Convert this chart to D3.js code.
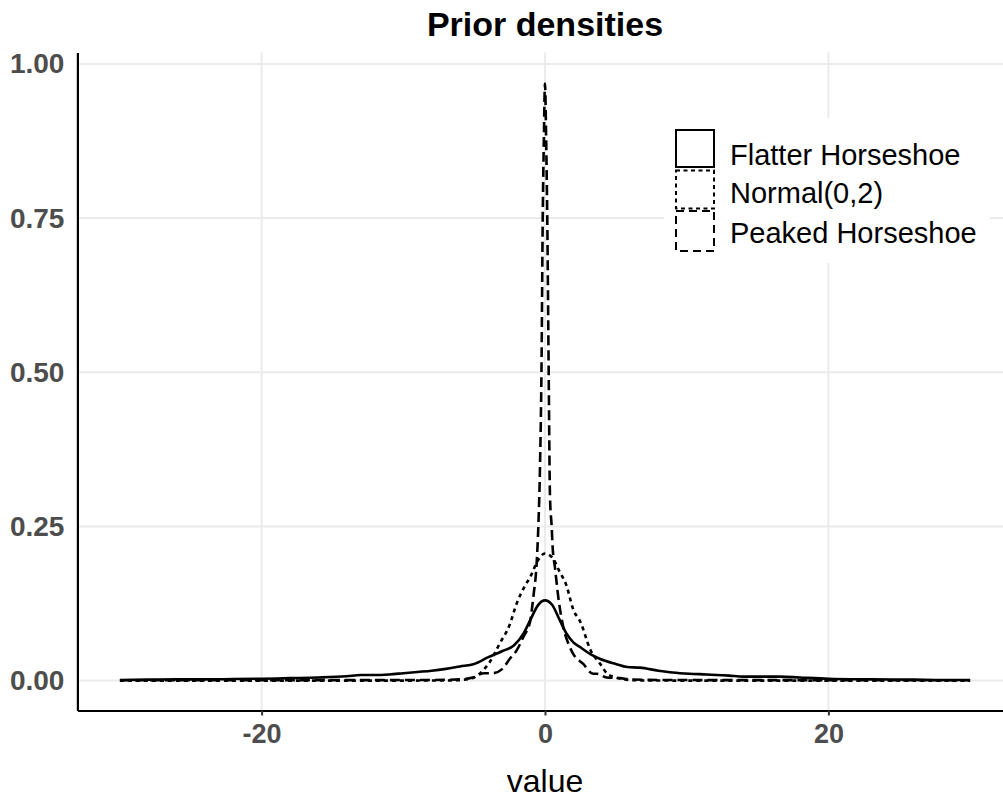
<!DOCTYPE html>
<html>
<head>
<meta charset="utf-8">
<script src="https://cdn.jsdelivr.net/npm/d3@7"></script>
<style>
  html, body { margin: 0; padding: 0; background: #fff; }
  svg { display: block; font-family: "Liberation Sans", Arial, Helvetica, sans-serif; }
</style>
</head>
<body>
<svg id="chart" width="1003" height="801"></svg>
<script>
// ---------- data ----------
const title = "Prior densities";
const xLabel = "value";
const seriesNames = ["Flatter Horseshoe", "Normal(0,2)", "Peaked Horseshoe"];
const xTicks = [-20, 0, 20];
const yTicks = [0, 0.25, 0.5, 0.75, 1.0];
const yTickLabels = ["0.00", "0.25", "0.50", "0.75", "1.00"];

const flatterX = [-30, -28, -26, -24, -22, -20, -18, -16, -14, -13, -12, -11, -10, -9, -8, -7, -6, -5, -4, -3, -2.2, -1.5, -1, -0.5, 0,
                  0.5, 1, 1.5, 2, 2.5, 3.2, 3.9, 5, 5.8, 6.7, 8, 9, 10.2, 11.4, 13, 14, 15.5, 16.6, 18, 20, 23, 26, 28, 30];
const flatterY = [0.001, 0.0015, 0.002, 0.002, 0.0025, 0.003, 0.004, 0.005, 0.007, 0.009, 0.009, 0.010, 0.012, 0.014, 0.016, 0.019, 0.023, 0.027, 0.038, 0.048, 0.057, 0.077, 0.100, 0.122, 0.130,
                  0.123, 0.100, 0.077, 0.062, 0.054, 0.043, 0.035, 0.027, 0.022, 0.021, 0.016, 0.013, 0.011, 0.010, 0.008, 0.0065, 0.0065, 0.0065, 0.005, 0.003, 0.002, 0.0015, 0.001, 0.001];

const normalX = [-30, -20, -10, -7, -6, -5, -4.4, -3.9, -3.2, -2.5, -2, -1.5, -1, -0.5, 0,
                 0.5, 1, 1.5, 2, 2.5, 3.2, 3.9, 4.4, 5, 6, 7, 10, 20, 30];
const normalY = [0, 0, 0, 0.0002, 0.0008, 0.005, 0.016, 0.030, 0.060, 0.090, 0.125, 0.150, 0.170, 0.195, 0.206,
                 0.200, 0.178, 0.155, 0.115, 0.095, 0.050, 0.027, 0.011, 0.005, 0.001, 0.0002, 0, 0, 0];

const peakedX = [-30, -20, -12, -8, -6, -5.1, -4.3, -3.7, -3, -2.5, -2, -1.5, -1.06, -0.8, -0.59, -0.47, -0.35, -0.25, -0.16, -0.08, 0,
                 0.08, 0.16, 0.26, 0.35, 0.47, 0.54, 0.7, 0.94, 1.3, 1.76, 2, 2.7, 3.4, 3.65, 4.35, 5.3, 6, 8, 12, 20, 30];
const peakedY = [0.0005, 0.0007, 0.0008, 0.001, 0.002, 0.005, 0.012, 0.012, 0.019, 0.035, 0.049, 0.072, 0.095, 0.14, 0.19, 0.25, 0.35, 0.50, 0.75, 0.88, 0.968,
                 0.88, 0.75, 0.50, 0.30, 0.25, 0.216, 0.184, 0.135, 0.086, 0.054, 0.043, 0.027, 0.011, 0.011, 0.005, 0.004, 0.002, 0.001, 0.0008, 0.0007, 0.0005];

const seriesX = [flatterX, normalX, peakedX];
const seriesY = [flatterY, normalY, peakedY];
const dashes = [null, "4,4", "10,5"];
const keyDashes = [null, "4,3.5", "8,5"];

// ---------- layout ----------
const svg = d3.select("#chart");
const x = d3.scaleLinear().domain([-33, 33]).range([77.4, 1012.6]);
const y = d3.scaleLinear().domain([-0.0485, 1.0185]).range([710.5, 52.5]);

// grid
const grid = svg.append("g");
grid.selectAll("line.h").data(yTicks).join("line")
  .attr("x1", x(-33)).attr("x2", x(33))
  .attr("y1", d => y(d)).attr("y2", d => y(d))
  .attr("stroke", "#ebebeb").attr("stroke-width", 2);
grid.selectAll("line.v").data(xTicks).join("line")
  .attr("x1", d => x(d)).attr("x2", d => x(d))
  .attr("y1", y(-0.0485)).attr("y2", y(1.0185))
  .attr("stroke", "#ebebeb").attr("stroke-width", 2);

// curves
const line = d3.line().x(d => x(d[0])).y(d => y(d[1])).curve(d3.curveMonotoneX);
seriesX.forEach((xs, i) => {
  const pts = xs.map((v, j) => [v, seriesY[i][j]]);
  svg.append("path").datum(pts)
    .attr("d", line)
    .attr("fill", "none")
    .attr("stroke", "#000")
    .attr("stroke-width", 2.6)
    .attr("stroke-dasharray", dashes[i]);
});

// axes
const xAxis = d3.axisBottom(x).tickValues(xTicks).tickSizeInner(5).tickSizeOuter(0).tickPadding(8).tickFormat(d3.format("d"));
const gx = svg.append("g").attr("transform", `translate(0,${y(-0.0485)})`).call(xAxis);
gx.select(".domain").attr("stroke", "#000").attr("stroke-width", 2.2);
gx.selectAll(".tick line").attr("stroke", "#333").attr("stroke-width", 2);
gx.selectAll(".tick text").attr("font-size", 27).attr("font-weight", "bold").attr("fill", "#4d4d4d")
  .attr("font-family", "Liberation Sans, Arial, sans-serif").text(d => d3.format("d")(d).replace("−", "-"));

const yAxis = d3.axisLeft(y).tickValues(yTicks).tickSize(0).tickPadding(13).tickFormat((d, i) => yTickLabels[i]);
const gy = svg.append("g").attr("transform", `translate(${x(-33)},0)`).call(yAxis);
gy.select(".domain").attr("stroke", "#000").attr("stroke-width", 2.2);
gy.selectAll(".tick text").attr("font-size", 28).attr("font-weight", "bold").attr("fill", "#4d4d4d")
  .attr("font-family", "Liberation Sans, Arial, sans-serif");

// title
svg.append("text").attr("x", 545).attr("y", 36).attr("text-anchor", "middle")
  .attr("font-size", 34).attr("font-weight", "bold").attr("fill", "#000").text(title);

// x label
svg.append("text").attr("x", 545).attr("y", 792).attr("text-anchor", "middle")
  .attr("font-size", 32).attr("fill", "#000").text(xLabel);

// legend
const lg = svg.append("g");
lg.append("rect").attr("x", 664).attr("y", 118).attr("width", 326).attr("height", 145).attr("fill", "#fff");
const keyTop = [130, 170.5, 211];
const keyH = [37, 38, 40];
const textBase = [165, 203, 243];
seriesNames.forEach((name, i) => {
  lg.append("rect").attr("x", 676).attr("y", keyTop[i]).attr("width", 38).attr("height", keyH[i])
    .attr("fill", "none").attr("stroke", "#000").attr("stroke-width", 2)
    .attr("stroke-dasharray", keyDashes[i]);
  lg.append("text").attr("x", 730).attr("y", textBase[i]).attr("font-size", 29).attr("fill", "#000").text(name);
});
</script>
</body>
</html>
